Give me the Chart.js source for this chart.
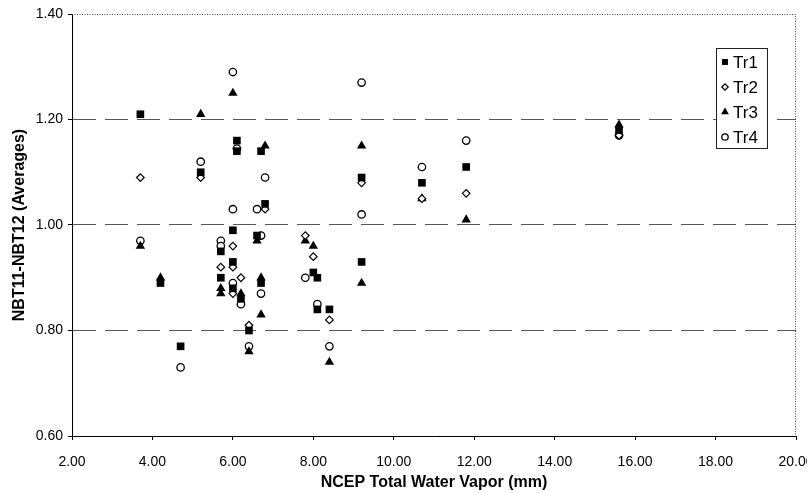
<!DOCTYPE html>
<html>
<head>
<meta charset="utf-8">
<script src="https://cdn.jsdelivr.net/npm/chart.js@4.4.1/dist/chart.umd.min.js"></script>
<style>
html,body{margin:0;padding:0;background:#fff;}
#wrap{width:807px;height:493px;position:relative;}
</style>
</head>
<body>
<div id="wrap"><canvas id="c" width="807" height="493"></canvas></div>
<script>
// ---- data ----
const seriesNames = ["Tr1", "Tr2", "Tr3", "Tr4"];

const tr1X = [3.7, 4.2, 4.7, 5.2, 5.7, 5.7, 6.0, 6.0, 6.0, 6.1, 6.1, 6.2, 6.4, 6.6, 6.7, 6.7, 6.8, 8.0, 8.1, 8.1, 8.4, 9.2, 9.2, 10.7, 11.8, 15.6];
const tr1Y = [1.21, 0.89, 0.77, 1.10, 0.95, 0.90, 0.99, 0.93, 0.88, 1.16, 1.14, 0.86, 0.80, 0.98, 1.14, 0.89, 1.04, 0.91, 0.90, 0.84, 0.84, 1.09, 0.93, 1.08, 1.11, 1.18];

const tr2X = [3.7, 5.2, 5.7, 6.0, 6.0, 6.0, 6.2, 6.4, 6.8, 7.8, 8.0, 8.4, 9.2, 10.7, 11.8, 15.6];
const tr2Y = [1.09, 1.09, 0.92, 0.96, 0.92, 0.87, 0.90, 0.81, 1.03, 0.98, 0.94, 0.82, 1.08, 1.05, 1.06, 1.17];

const tr3X = [3.7, 4.2, 5.2, 5.7, 5.7, 6.0, 6.2, 6.4, 6.6, 6.7, 6.7, 6.8, 7.8, 8.0, 8.4, 9.2, 9.2, 10.7, 11.8, 15.6];
const tr3Y = [0.96, 0.90, 1.21, 0.88, 0.87, 1.25, 0.87, 0.76, 0.97, 0.90, 0.83, 1.15, 0.97, 0.96, 0.74, 1.15, 0.89, 1.05, 1.01, 1.19];

const tr4X = [3.7, 4.7, 5.2, 5.7, 5.7, 6.0, 6.0, 6.0, 6.1, 6.2, 6.4, 6.6, 6.7, 6.7, 6.8, 7.8, 8.1, 8.4, 9.2, 9.2, 10.7, 11.8, 15.6];
const tr4Y = [0.97, 0.73, 1.12, 0.97, 0.96, 1.29, 1.03, 0.89, 1.145, 0.85, 0.77, 1.03, 0.98, 0.87, 1.09, 0.90, 0.85, 0.77, 1.27, 1.02, 1.11, 1.16, 1.17];

const xTickMin = 2, xTickMax = 20, xTickStep = 2;
const yTickMin = 0.6, yTickMax = 1.4, yTickStep = 0.2;
const xTitle = "NCEP Total Water Vapor (mm)";
const yTitle = "NBT11-NBT12 (Averages)";

function pts(xs, ys) { return xs.map((x, i) => ({ x: x, y: ys[i] })); }

const styles = [
  { pointStyle: 'rect', pointRadius: 5.4, backgroundColor: '#000', borderColor: '#000', borderWidth: 0, legendR: 4.2 },
  { pointStyle: 'rectRot', pointRadius: 3.8, backgroundColor: '#fff', borderColor: '#000', borderWidth: 1.2, legendR: 3.2 },
  { pointStyle: 'triangle', pointRadius: 5.4, backgroundColor: '#000', borderColor: '#000', borderWidth: 0, legendR: 4.5 },
  { pointStyle: 'circle', pointRadius: 3.7, backgroundColor: '#fff', borderColor: '#000', borderWidth: 1.3, legendR: 3.2 }
];
const allData = [pts(tr1X, tr1Y), pts(tr2X, tr2Y), pts(tr3X, tr3Y), pts(tr4X, tr4Y)];

const datasets = seriesNames.map((n, i) => ({
  label: n,
  data: allData[i],
  pointStyle: styles[i].pointStyle,
  pointRadius: styles[i].pointRadius,
  pointBackgroundColor: styles[i].backgroundColor,
  pointBorderColor: styles[i].borderColor,
  pointBorderWidth: styles[i].borderWidth,
  showLine: false
}));

const near = (a, b) => Math.abs(a - b) < 1e-6;

const framePlugin = {
  id: 'frame',
  afterDatasetsDraw(chart) {
    const { ctx, chartArea: a } = chart;
    ctx.save();
    ctx.strokeStyle = '#444';
    ctx.lineWidth = 1;
    ctx.setLineDash([1, 1.5]);
    ctx.beginPath();
    ctx.moveTo(a.left, a.top + 0.5);
    ctx.lineTo(a.right - 0.5, a.top + 0.5);
    ctx.lineTo(a.right - 0.5, a.bottom);
    ctx.stroke();
    ctx.restore();
  }
};

const legendPlugin = {
  id: 'boxLegend',
  afterDraw(chart) {
    const ctx = chart.ctx;
    const bx = 716.5, by = 48.5, bw = 51, bh = 100;
    ctx.save();
    ctx.fillStyle = '#fff';
    ctx.fillRect(bx, by, bw, bh);
    ctx.strokeStyle = '#222';
    ctx.lineWidth = 1;
    ctx.setLineDash([]);
    ctx.strokeRect(bx, by, bw, bh);
    chart.data.datasets.forEach((ds, i) => {
      const cy = 62 + i * 25;
      ctx.fillStyle = styles[i].backgroundColor;
      ctx.strokeStyle = styles[i].borderColor;
      ctx.lineWidth = styles[i].borderWidth;
      Chart.helpers.drawPoint(ctx, {
        pointStyle: styles[i].pointStyle,
        radius: styles[i].legendR,
        borderWidth: styles[i].borderWidth,
        rotation: 0
      }, 725, cy);
      ctx.font = '17px Arial, "Liberation Sans", sans-serif';
      ctx.textBaseline = 'middle';
      ctx.textAlign = 'left';
      ctx.fillStyle = '#000';
      ctx.fillText(ds.label, 733, cy + 1);
    });
    ctx.restore();
  }
};

new Chart(document.getElementById('c'), {
  type: 'scatter',
  data: { datasets: datasets },
  plugins: [framePlugin, legendPlugin],
  options: {
    responsive: false,
    animation: false,
    events: [],
    layout: { padding: { top: 14, right: 11, left: 0, bottom: 0 } },
    plugins: { legend: { display: false }, tooltip: { enabled: false } },
    scales: {
      x: {
        type: 'linear',
        min: xTickMin, max: xTickMax,
        afterFit(s) { s.height = 57; s.paddingLeft = 0; s.paddingRight = 0; },
        ticks: {
          stepSize: xTickStep,
          color: '#000',
          padding: 14,
          maxRotation: 0,
          autoSkip: false,
          font: { family: 'Arial, "Liberation Sans", sans-serif', size: 14 },
          callback: v => v.toFixed(2)
        },
        grid: { drawOnChartArea: false, drawTicks: true, tickLength: 4, tickColor: '#000', color: '#000' },
        border: { display: true, color: '#000', width: 1 },
        title: {
          display: true, text: xTitle, color: '#000',
          font: { family: 'Arial, "Liberation Sans", sans-serif', size: 16, weight: 'bold' },
          padding: { top: 0, bottom: 1 }
        }
      },
      y: {
        type: 'linear',
        min: yTickMin, max: yTickMax,
        afterFit(s) { s.width = 72; },
        ticks: {
          stepSize: yTickStep,
          color: '#000',
          padding: 5,
          font: { family: 'Arial, "Liberation Sans", sans-serif', size: 14 },
          callback: v => Number(v).toFixed(2)
        },
        grid: {
          drawOnChartArea: true, drawTicks: true, tickLength: 4, tickColor: '#000',
          tickBorderDash: [],
          color: ctx => (near(ctx.tick.value, yTickMin) || near(ctx.tick.value, yTickMax)) ? 'rgba(0,0,0,0)' : '#555',
          lineWidth: 1
        },
        border: { display: true, color: '#000', width: 1, dash: [23, 9] },
        title: {
          display: true, text: yTitle, color: '#000',
          font: { family: 'Arial, "Liberation Sans", sans-serif', size: 16, weight: 'bold' },
          padding: { top: 10, bottom: 0 }
        }
      }
    }
  }
});
</script>
</body>
</html>
